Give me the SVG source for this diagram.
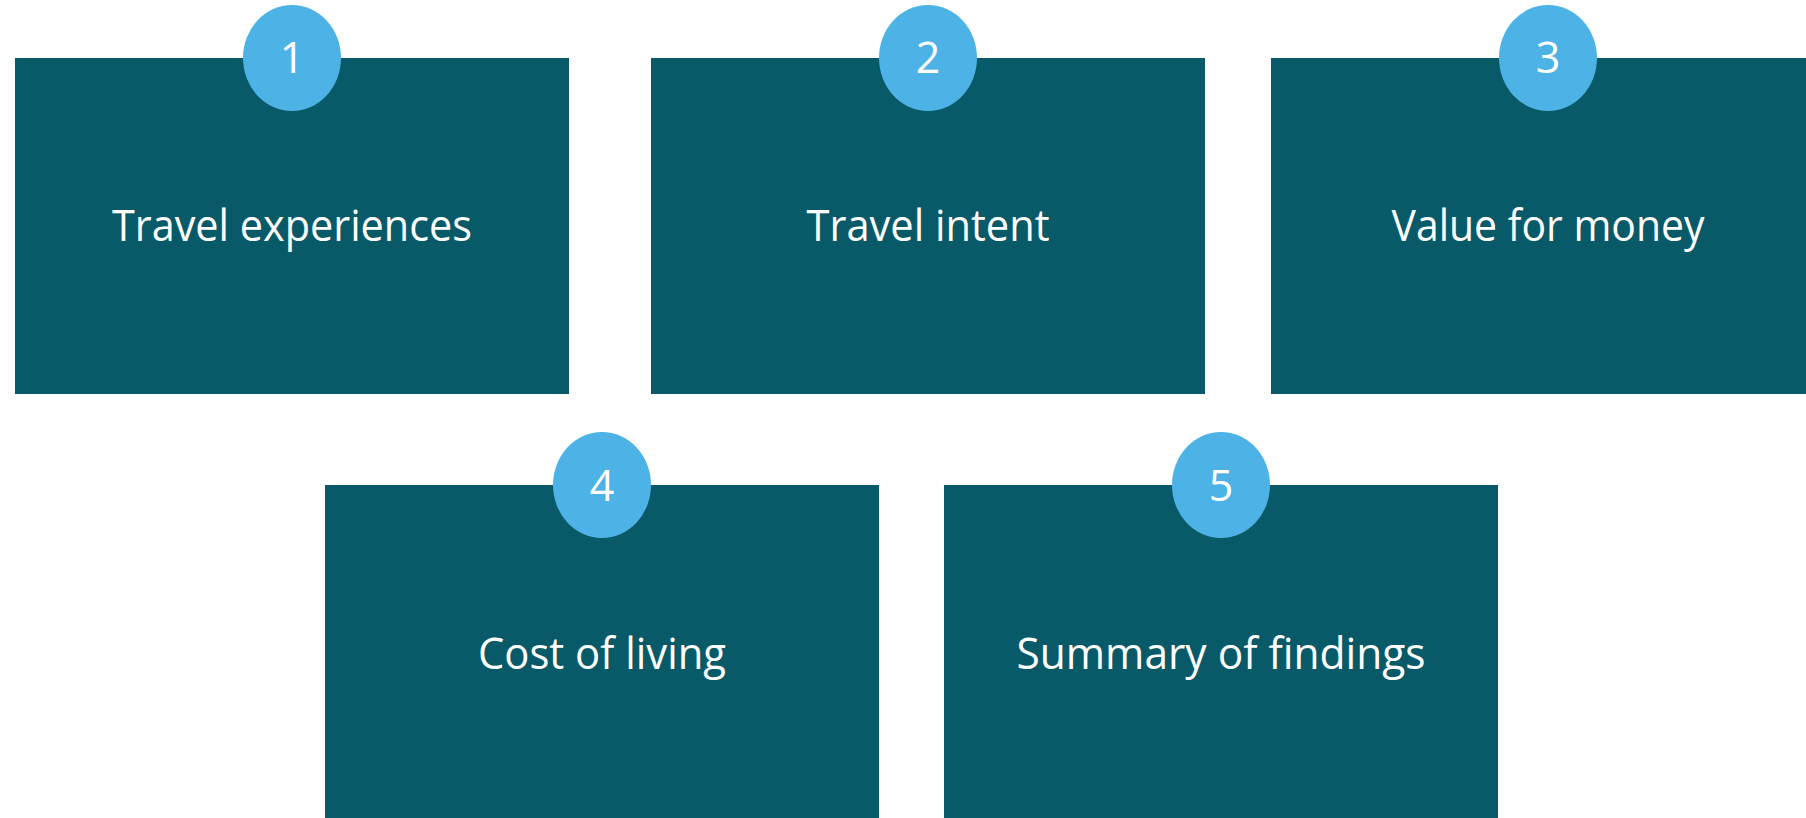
<svg xmlns="http://www.w3.org/2000/svg" width="1806" height="818" viewBox="0 0 1806 818">
  <style>
    .box { fill: #095A68; }
    .badge { fill: #4DB3E6; }
    .label { font-family: "Open Sans", "Liberation Sans", sans-serif; font-size: 44px; font-weight: 400; fill: #FFFFFF; text-anchor: middle; }
    .num { font-family: "Open Sans", "Liberation Sans", sans-serif; font-size: 43px; font-weight: 400; fill: #FFFFFF; text-anchor: middle; }
  </style>
  <rect width="1806" height="818" fill="#FFFFFF"/>
  <g id="connectors"></g>
  <g id="node1">
    <rect class="box" x="15" y="58" width="554" height="336"/>
    <ellipse class="badge" cx="292" cy="58" rx="49" ry="53"/>
    <text class="num" x="292" y="73">1</text>
    <text class="label" x="292" y="241" textLength="360" lengthAdjust="spacingAndGlyphs">Travel experiences</text>
  </g>
  <g id="node2">
    <rect class="box" x="651" y="58" width="554" height="336"/>
    <ellipse class="badge" cx="928" cy="58" rx="49" ry="53"/>
    <text class="num" x="928" y="73">2</text>
    <text class="label" x="928" y="241" textLength="243" lengthAdjust="spacingAndGlyphs">Travel intent</text>
  </g>
  <g id="node3">
    <rect class="box" x="1271" y="58" width="554" height="336"/>
    <ellipse class="badge" cx="1548" cy="58" rx="49" ry="53"/>
    <text class="num" x="1548" y="73">3</text>
    <text class="label" x="1548" y="241" textLength="313" lengthAdjust="spacingAndGlyphs">Value for money</text>
  </g>
  <g id="node4">
    <rect class="box" x="325" y="485" width="554" height="336"/>
    <ellipse class="badge" cx="602" cy="485" rx="49" ry="53"/>
    <text class="num" x="602" y="501">4</text>
    <text class="label" x="602" y="669" textLength="248" lengthAdjust="spacingAndGlyphs">Cost of living</text>
  </g>
  <g id="node5">
    <rect class="box" x="944" y="485" width="554" height="336"/>
    <ellipse class="badge" cx="1221" cy="485" rx="49" ry="53"/>
    <text class="num" x="1221" y="501">5</text>
    <text class="label" x="1221" y="669" textLength="409" lengthAdjust="spacingAndGlyphs">Summary of findings</text>
  </g>
</svg>
